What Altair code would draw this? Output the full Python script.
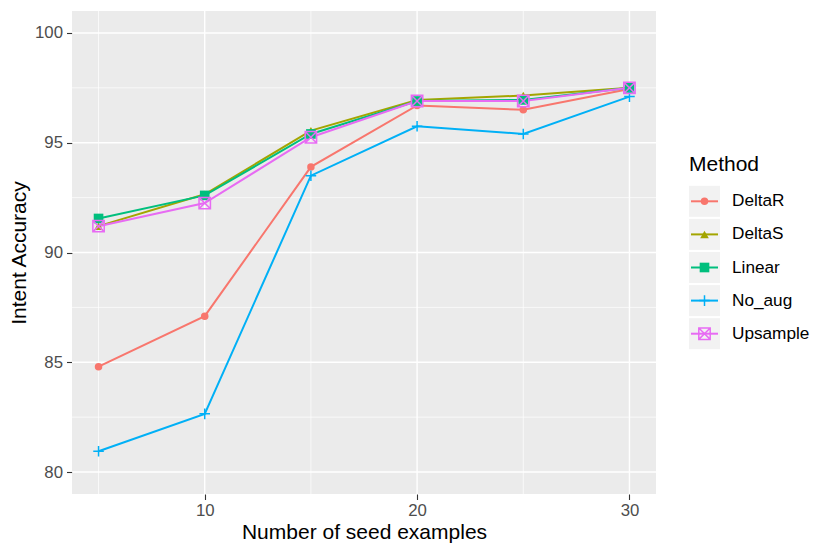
import altair as alt
import pandas as pd

seed = [5, 10, 15, 20, 25, 30]
methods = ["DeltaR", "DeltaS", "Linear", "No_aug", "Upsample"]
delta_r = [84.8, 87.1, 93.9, 96.7, 96.5, 97.45]
delta_s = [91.2, 92.65, 95.55, 96.95, 97.15, 97.5]
linear = [91.55, 92.6, 95.4, 96.9, 96.95, 97.5]
no_aug = [80.95, 82.65, 93.5, 95.75, 95.4, 97.1]
upsample = [91.2, 92.25, 95.25, 96.9, 96.9, 97.5]

x_major = [10, 20, 30]
x_minor = [5, 15, 25]
y_major = [80, 85, 90, 95, 100]
y_minor = [82.5, 87.5, 92.5, 97.5]

series = {"DeltaR": delta_r, "DeltaS": delta_s, "Linear": linear,
          "No_aug": no_aug, "Upsample": upsample}
rows = []
for m in methods:
    for s, v in zip(seed, series[m]):
        rows.append({"seed": s, "acc": v, "Method": m})
df = pd.DataFrame(rows)
leg_df = pd.DataFrame({"Method": methods})

FONT = "Liberation Sans"
colors = ["#F8766D", "#A3A500", "#00BF7D", "#00B0F6", "#E76BF3"]
shapes = ["circle", "triangle-up", "square",
          "M-1,0L1,0M0,-1L0,1",
          "M-1,-1L1,-1L1,1L-1,1ZM-1,-1L1,1M1,-1L-1,1"]
sizes = [56, 130, 42, 100, 42]

cscale = alt.Scale(domain=methods, range=colors)
sscale = alt.Scale(domain=methods, range=shapes)
zscale = alt.Scale(domain=methods, range=sizes)
xs = alt.Scale(domain=[3.75, 31.25], nice=False, zero=False)
ys = alt.Scale(domain=[79, 101], nice=False, zero=False)

xax = alt.Axis(values=x_major, title="Number of seed examples", grid=False,
               domain=False, tickColor="#333333", tickSize=5.5, tickWidth=1.1,
               labelColor="#4D4D4D", labelFontSize=16.8, labelFont=FONT,
               labelPadding=3, titleFont=FONT, titleFontSize=21,
               titleFontWeight="normal", titleColor="black", titlePadding=2)
yax = alt.Axis(values=y_major, title="Intent Accuracy", grid=False,
               domain=False, tickColor="#333333", tickSize=5.5, tickWidth=1.1,
               labelColor="#4D4D4D", labelFontSize=16.8, labelFont=FONT,
               labelPadding=4, titleFont=FONT, titleFontSize=21,
               titleFontWeight="normal", titleColor="black", titlePadding=5)

X = alt.X("seed:Q", scale=xs, axis=xax)
Y = alt.Y("acc:Q", scale=ys, axis=yax)

grid_y_minor = alt.Chart(pd.DataFrame({"acc": y_minor})).mark_rule(
    color="white", strokeWidth=0.7).encode(y=Y)
grid_y_major = alt.Chart(pd.DataFrame({"acc": y_major})).mark_rule(
    color="white", strokeWidth=1.4).encode(y=Y)
grid_x_minor = alt.Chart(pd.DataFrame({"seed": x_minor})).mark_rule(
    color="white", strokeWidth=0.7).encode(x=X)
grid_x_major = alt.Chart(pd.DataFrame({"seed": x_major})).mark_rule(
    color="white", strokeWidth=1.4).encode(x=X)

color_enc = alt.Color("Method:N", scale=cscale, legend=None)
shape_enc = alt.Shape("Method:N", scale=sscale, legend=None)
size_enc = alt.Size("Method:O", scale=zscale, legend=None)

lines = alt.Chart(df).mark_line(strokeWidth=2).encode(
    x=X, y=Y, color=color_enc, detail="Method:N")
pts_filled = alt.Chart(df).transform_filter(
    alt.FieldOneOfPredicate(field="Method", oneOf=["DeltaR", "DeltaS", "Linear"])
).mark_point(filled=True, opacity=1).encode(
    x=X, y=Y, color=color_enc, shape=shape_enc, size=size_enc)
pts_stroked = alt.Chart(df).transform_filter(
    alt.FieldOneOfPredicate(field="Method", oneOf=["No_aug", "Upsample"])
).mark_point(filled=False, opacity=1, strokeWidth=1.5).encode(
    x=X, y=Y, color=color_enc, shape=shape_enc, size=size_enc)

main = alt.layer(grid_y_minor, grid_y_major, grid_x_minor, grid_x_major,
                 lines, pts_filled, pts_stroked).properties(
    width=584, height=483,
    view=alt.ViewBackground(fill="#EBEBEB", stroke=None))

# legend panel
LY = alt.Y("Method:N", scale=alt.Scale(type="point", domain=methods,
                                       range=[190.3, 322.7], padding=0), axis=None)
keys = alt.Chart(leg_df).mark_point(shape="square", filled=True, opacity=1,
                                    color="#F2F2F2", size=961).encode(
    x=alt.value(15.5), y=LY)
key_lines = alt.Chart(leg_df).mark_rule(strokeWidth=2).encode(
    x=alt.value(2), x2=alt.value(29), y=LY, color=color_enc)
key_filled = alt.Chart(leg_df).transform_filter(
    alt.FieldOneOfPredicate(field="Method", oneOf=["DeltaR", "DeltaS", "Linear"])
).mark_point(filled=True, opacity=1).encode(
    x=alt.value(15.5), y=LY, color=color_enc, shape=shape_enc, size=size_enc)
key_stroked = alt.Chart(leg_df).transform_filter(
    alt.FieldOneOfPredicate(field="Method", oneOf=["No_aug", "Upsample"])
).mark_point(filled=False, opacity=1, strokeWidth=1.5).encode(
    x=alt.value(15.5), y=LY, color=color_enc, shape=shape_enc, size=size_enc)
key_text = alt.Chart(leg_df).mark_text(align="left", baseline="middle",
                                       fontSize=17.2, font=FONT, color="black").encode(
    x=alt.value(43), y=LY, text="Method:N")
leg_title = alt.Chart(pd.DataFrame({"t": ["Method"]})).mark_text(
    align="left", baseline="middle", fontSize=21, font=FONT, color="black").encode(
    x=alt.value(0), y=alt.value(154), text="t:N")

legend = alt.layer(keys, key_lines, key_filled, key_stroked, key_text, leg_title).properties(
    width=130, height=483)

chart = alt.hconcat(main, legend, spacing=32).resolve_scale(
    color="shared", shape="shared", size="shared"
).configure(padding={"left": 0, "top": 2, "right": 0, "bottom": 0}
).configure_view(stroke=None)

chart.save("out.html", embed_options={"renderer": "svg", "actions": False})
